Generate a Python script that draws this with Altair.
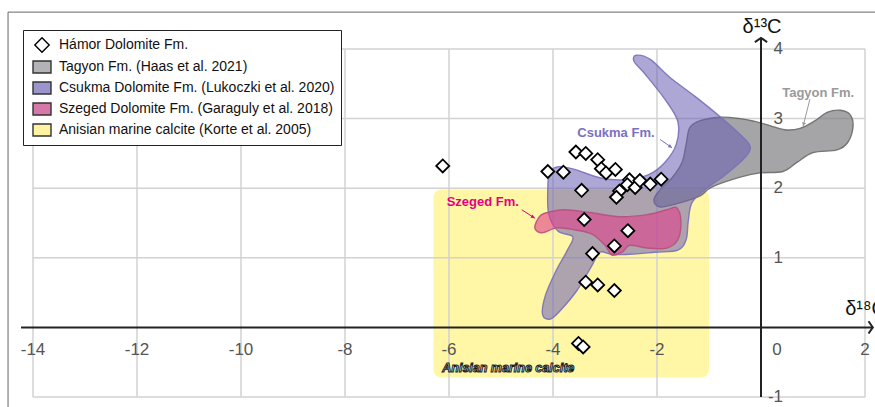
import altair as alt
import pandas as pd

W, H = 832, 348

# Hámor Dolomite Fm. samples: δ18O (x) and δ13C (y), ‰ VPDB
hamor_d18o = [-6.12, -4.10, -3.80, -3.56, -3.37, -3.14, -3.07, -2.98, -2.80, -3.45,
              -2.53, -2.57, -2.42, -2.33, -2.72, -2.78, -2.13, -1.92, -3.40, -2.56,
              -2.82, -3.24, -3.37, -3.14, -2.82, -3.51, -3.42]
hamor_d13c = [2.32, 2.24, 2.23, 2.52, 2.50, 2.41, 2.28, 2.22, 2.27, 1.97,
              2.12, 2.05, 2.01, 2.11, 1.96, 1.87, 2.06, 2.13, 1.55, 1.39,
              1.17, 1.06, 0.65, 0.61, 0.53, -0.23, -0.28]

# Outline of the Tagyon Fm. field
tagyon_x = [-1.37, -1.44, -1.52, -1.71, -1.94, -2.06, -1.94, -1.56, -1.17, -0.94,
            -0.40, -0.02, 0.42, 0.69, 1.00, 1.46, 1.67, 1.77, 1.71, 1.52,
            1.27, 1.04, 0.75, 0.46, 0.17, -0.12, -0.40, -0.79, -1.17]
tagyon_y = [2.87, 2.63, 2.37, 2.15, 1.98, 1.83, 1.73, 1.79, 1.89, 2.02,
            2.16, 2.22, 2.24, 2.37, 2.51, 2.55, 2.66, 2.89, 3.06, 3.12,
            3.09, 2.97, 2.86, 2.84, 2.90, 2.96, 3.00, 3.02, 2.97]

# Outline of the Csukma Dolomite Fm. field
csukma_x = [-2.40, -2.13, -1.75, -1.27, -0.79, -0.40, -0.21, -0.31, -0.69, -1.08,
            -1.33, -1.40, -1.44, -1.60, -2.04, -2.52, -2.87, -3.10, -3.25, -3.54,
            -3.85, -4.05, -4.20, -4.15, -3.95, -3.73, -3.62, -3.90, -4.08, -4.10,
            -4.06, -3.87, -3.58, -3.10, -2.62, -2.17, -1.85, -1.63, -1.60, -1.85,
            -2.23, -2.44]
csukma_y = [3.91, 3.85, 3.59, 3.32, 3.03, 2.77, 2.60, 2.44, 2.19, 1.98,
            1.79, 1.52, 1.26, 1.11, 1.08, 1.05, 1.05, 1.08, 0.89, 0.53,
            0.25, 0.12, 0.18, 0.45, 0.80, 1.10, 1.30, 1.38, 1.62, 1.98,
            2.24, 2.31, 2.27, 2.15, 2.12, 2.19, 2.37, 2.63, 2.96, 3.28,
            3.64, 3.82]

# Outline of the Szeged Dolomite Fm. field
szeged_x = [-4.35, -4.25, -4.06, -3.77, -3.29, -2.71, -2.19, -1.81, -1.62, -1.54,
            -1.60, -1.81, -2.19, -2.52, -2.67, -2.87, -3.00, -3.25, -3.58, -3.92,
            -4.21]
szeged_y = [1.43, 1.60, 1.66, 1.69, 1.65, 1.59, 1.62, 1.69, 1.72, 1.52,
            1.26, 1.14, 1.14, 1.18, 1.08, 1.04, 1.18, 1.34, 1.40, 1.43,
            1.36]

# Anisian marine calcite range
anisian_x = [-6.3, -1.0]
anisian_y = [-0.72, 1.98]

series = ["Hámor Dolomite Fm.", "Tagyon Fm. (Haas et al. 2021)",
          "Csukma Dolomite Fm. (Lukoczki et al. 2020)",
          "Szeged Dolomite Fm. (Garaguly et al. 2018)",
          "Anisian marine calcite (Korte et al. 2005)"]
legend_fill = ["#ffffff", "#b3b3b5", "#9c94cc", "#d678a8", "#fdf3a0"]
legend_stroke = ["#000000", "#333333", "#333333", "#333333", "#333333"]

x_ticks = [-14, -12, -10, -8, -6, -4, -2, 2]
y_ticks = [-1, 1, 2, 3, 4]
grid_x = [-14, -12, -10, -8, -6, -4, -2, 2]
grid_y = [-1, 1, 2, 3, 4]

# field labels with pointer arrows
ann_text = ["Tagyon Fm.", "Csukma Fm.", "Szeged Fm."]
ann_x = [1.10, -2.79, -5.35]
ann_y = [3.37, 2.8, 1.80]
ann_color = ["#9a9a9a", "#7b70c0", "#e6007e"]
arr_x = [0.94, -1.94, -4.60]
arr_y = [3.28, 2.70, 1.69]
arr_x2 = [0.81, -1.71, -4.35]
arr_y2 = [2.89, 2.58, 1.57]
arr_angle = [104, 34, 32]

xs = alt.Scale(domain=[-14, 2], nice=False, zero=False)
ys = alt.Scale(domain=[-1, 4], nice=False, zero=False)
FONT = "Liberation Sans"


def X(f="x"):
    return alt.X(f"{f}:Q", scale=xs, axis=None)


def Y(f="y"):
    return alt.Y(f"{f}:Q", scale=ys, axis=None)


def poly(xv, yv):
    return pd.DataFrame({"x": xv, "y": yv, "i": list(range(len(xv)))})


def field(df, fill, stroke, opacity):
    return alt.Chart(df).mark_line(
        interpolate="cardinal-closed", fill=fill, fillOpacity=opacity,
        stroke=stroke, strokeWidth=1.4, strokeOpacity=0.9,
    ).encode(x=X(), y=Y(), order="i:Q")


# panel frame (left and top edges of the figure box)
frame = alt.Chart(pd.DataFrame({"x": [-14.48, -14.48], "x2": [-14.48, 2.3],
                                "y": [-1.2, 4.53], "y2": [4.53, 4.53]})).mark_rule(
    color="#666", strokeWidth=1
).encode(x=X(), x2="x2:Q", y=Y(), y2="y2:Q")

anisian = alt.Chart(pd.DataFrame({"x": [anisian_x[0]], "x2": [anisian_x[1]],
                                  "y": [anisian_y[0]], "y2": [anisian_y[1]]})).mark_rect(
    color="#fff6a6", cornerRadius=8
).encode(x=X(), x2="x2:Q", y=Y(), y2="y2:Q")

vgrid = alt.Chart(pd.DataFrame({"x": grid_x, "y": [-1] * len(grid_x), "y2": [4] * len(grid_x)})).mark_rule(
    color="#d2d2d2", strokeWidth=1.5
).encode(x=X(), y=Y(), y2="y2:Q")

hgrid = alt.Chart(pd.DataFrame({"y": grid_y, "x": [-14] * len(grid_y), "x2": [2] * len(grid_y)})).mark_rule(
    color="#d2d2d2", strokeWidth=1.5
).encode(y=Y(), x=X(), x2="x2:Q")

tagyon = field(poly(tagyon_x, tagyon_y), "#7f7f83", "#6a6a6a", 0.7)
csukma = field(poly(csukma_x, csukma_y), "#6a5fb5", "#7a70b8", 0.55)
szeged = field(poly(szeged_x, szeged_y), "#e0408a", "#b8507e", 0.6)

# axes through the origin
axes = alt.Chart(pd.DataFrame({"x": [-14.23, 0.0], "x2": [2.15, 0.0],
                               "y": [0.0, -1.0], "y2": [0.0, 4.16]})).mark_rule(
    color="#222", strokeWidth=2
).encode(x=X(), x2="x2:Q", y=Y(), y2="y2:Q")
up_head = alt.Chart(pd.DataFrame({"x": [0.0], "y": [4.16]})).mark_point(
    shape="M-1,0.7L0,0L1,0.7", filled=False, size=150, strokeWidth=2,
    color="#222", opacity=1
).encode(x=X(), y=Y())
right_head = alt.Chart(pd.DataFrame({"x": [2.15], "y": [0.0]})).mark_point(
    shape="M-0.7,-1L0,0L-0.7,1", filled=False, size=150, strokeWidth=2,
    color="#222", opacity=1
).encode(x=X(), y=Y())

xlab = alt.Chart(pd.DataFrame({"x": x_ticks, "y": [0] * len(x_ticks),
                               "t": [str(v) for v in x_ticks]})).mark_text(
    font=FONT, fontSize=17, color="#555", dy=23, baseline="middle"
).encode(x=X(), y=Y(), text="t:N")
zero_lab = alt.Chart(pd.DataFrame({"x": [0], "y": [0], "t": ["0"]})).mark_text(
    font=FONT, fontSize=17, color="#555", dy=23, dx=16, baseline="middle"
).encode(x=X(), y=Y(), text="t:N")
ylab = alt.Chart(pd.DataFrame({"y": y_ticks, "x": [0] * len(y_ticks),
                               "t": [str(v) for v in y_ticks]})).mark_text(
    font=FONT, fontSize=17, color="#555", dx=22, align="right", baseline="middle"
).encode(y=Y(), x=X(), text="t:N")

c13 = alt.Chart(pd.DataFrame({"x": [0.02], "y": [4.31], "t": ["δ¹³C"]})).mark_text(
    font=FONT, fontSize=20, color="#111", baseline="middle"
).encode(x=X(), y=Y(), text="t:N")
o18 = alt.Chart(pd.DataFrame({"x": [1.62], "y": [0.27], "t": ["δ¹⁸O"]})).mark_text(
    font=FONT, fontSize=20, color="#111", baseline="middle", align="left"
).encode(x=X(), y=Y(), text="t:N")

ann = alt.Chart(pd.DataFrame({"x": ann_x, "y": ann_y, "t": ann_text, "c": ann_color})).mark_text(
    font=FONT, fontSize=13, fontWeight="bold", baseline="middle"
).encode(x=X(), y=Y(), text="t:N", color=alt.Color("c:N", scale=None))

arr_df = pd.DataFrame({"x": arr_x, "y": arr_y, "x2": arr_x2, "y2": arr_y2,
                       "a": arr_angle, "c": ann_color})
arr_line = alt.Chart(arr_df).mark_rule(strokeWidth=1).encode(
    x=X(), y=Y(), x2="x2:Q", y2="y2:Q", color=alt.Color("c:N", scale=None))
arr_head = alt.Chart(arr_df).mark_point(
    shape="M0,0L-1,-0.5L-1,0.5Z", filled=True, size=60, opacity=1
).encode(x=X("x2"), y=Y("y2"), angle=alt.Angle("a:Q", scale=None),
         color=alt.Color("c:N", scale=None))

anisian_lab = alt.Chart(pd.DataFrame({"x": [-6.13], "y": [-0.59],
                                      "t": ["Anisian marine calcite"]})).mark_text(
    font=FONT, fontSize=12.5, fontWeight="bold", fontStyle="italic",
    align="left", baseline="middle", fill="#eeeeee", stroke="#1a1a1a", strokeWidth=1,
).encode(x=X(), y=Y(), text="t:N")

legend = alt.Legend(
    orient="none", legendX=-10, legendY=-19, title=None, fillColor="white",
    strokeColor="#222", padding=6, labelFont=FONT, labelFontSize=14, labelLimit=400,
    labelColor="#111", symbolSize=256, rowPadding=3, labelOffset=8, symbolOffset=4,
    symbolStrokeWidth=1.4, symbolOpacity=1,
)
hamor = alt.Chart(pd.DataFrame({"x": hamor_d18o, "y": hamor_d13c,
                                "s": [series[0]] * len(hamor_d18o)})).mark_point(
    filled=False, size=208, strokeWidth=1.8, opacity=1
).encode(
    x=X(), y=Y(),
    fill=alt.Fill("s:N", scale=alt.Scale(domain=series, range=legend_fill), legend=legend),
    stroke=alt.Stroke("s:N", scale=alt.Scale(domain=series, range=legend_stroke), legend=legend),
    shape=alt.Shape("s:N", scale=alt.Scale(
        domain=series,
        range=["M-0.9,0L0,-0.9L0.9,0L0,0.9Z"] + ["M-1.125,-0.75H1.125V0.75H-1.125Z"] * 4),
        legend=legend),
)

chart = alt.layer(
    frame, anisian, vgrid, hgrid, tagyon, csukma, szeged,
    axes, up_head, right_head, xlab, zero_lab, ylab, c13, o18,
    arr_line, arr_head, ann, anisian_lab, hamor,
).properties(
    width=W, height=H, autosize=alt.AutoSizeParams(type="none"),
    padding={"left": 33, "top": 49, "right": 10, "bottom": 10},
).configure_view(strokeWidth=0)

chart.save("out.html", embed_options={"renderer": "svg", "actions": False})
